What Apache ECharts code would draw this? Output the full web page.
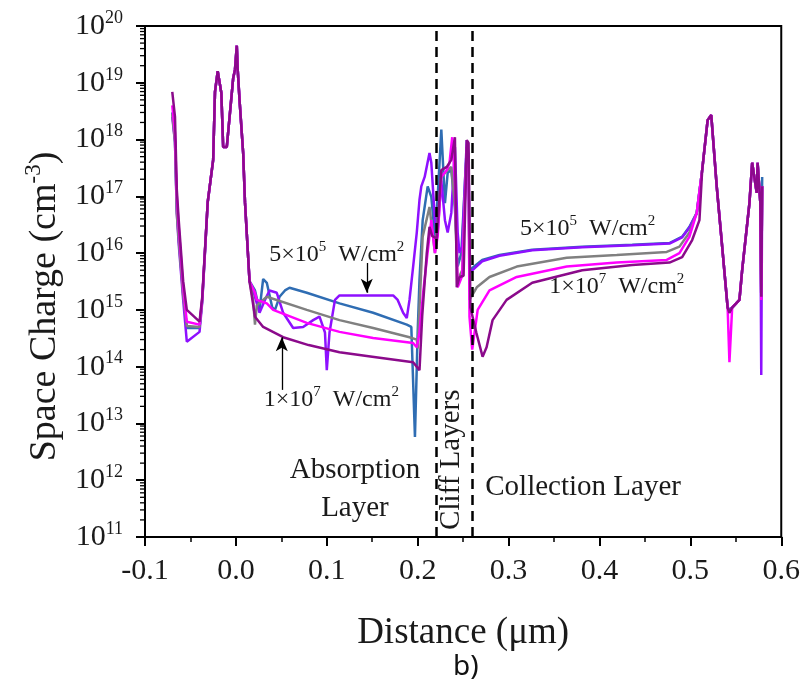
<!DOCTYPE html>
<html><head><meta charset="utf-8">
<script src="https://cdn.jsdelivr.net/npm/echarts@6/dist/echarts.min.js"></script>
<style>html,body{margin:0;padding:0;background:#fff}#c{width:803px;height:695px}</style>
</head><body><div id="c"></div>
<script>
// axis ranges and ticks
const xMin = -0.1, xMax = 0.6, xStep = 0.1;
const yTickValues = [1e11,1e12,1e13,1e14,1e15,1e16,1e17,1e18,1e19,1e20];
const yMinorMultipliers = [2,3,4,5,6,7,8,9];
const layerBoundaries = [0.22, 0.256];

// shared parts of the profiles (all curves coincide here)
const peaksLeft = [[-0.031,7.9e16],[-0.025,4.4e17],[-0.023,6.9e18],[-0.020,1.6e19],[-0.016,6.6e18],[-0.014,7.4e17],[-0.010,7.4e17],[-0.003,1.2e19],[-0.001,1.7e19],[0.001,4.5e19],[0.002,1.7e19],[0.004,5.0e18],[0.008,5.8e17],[0.010,7.9e16],[0.015,3.2e15]];
const peakRightRise = [[0.513,2.9e17],[0.519,2.2e18],[0.523,2.7e18],[0.529,1.5e17],[0.535,1.3e16],[0.541,1.1e15]];
const peakRightTail = [[0.546,1.1e15],[0.554,1.5e15],[0.557,5.0e15],[0.565,7.6e16],[0.568,3.9e17],[0.573,1.15e17],[0.574,3.9e17],[0.577,7.6e16]];

// blue curve
const blueStart = [[-0.070,3.0e18],[-0.067,1.0e18],[-0.065,6e16],[-0.063,2e16],[-0.058,2.0e15],[-0.054,4.8e14],[-0.040,4.8e14],[-0.037,1.5e15]];
const blueMid = [[0.021,2.2e15],[0.026,1.0e15],[0.030,3.5e15],[0.034,3.0e15],[0.040,1.1e15],[0.043,1.0e15],[0.048,1.7e15],[0.054,2.2e15],[0.059,2.45e15],[0.078,2.0e15],[0.114,1.3e15],[0.151,8.9e14],[0.188,5.5e14],[0.193,5.0e14],[0.197,5.8e12],[0.200,4.0e14],[0.202,3.4e15],[0.2055,3.8e16],[0.211,1.5e17],[0.215,9.8e16],[0.219,1.95e16],[0.222,9.8e16],[0.226,1.5e18],[0.230,7.6e16],[0.233,2.6e17],[0.237,2.9e17],[0.241,6.5e16],[0.244,5.8e15],[0.248,1.0e16],[0.254,7.4e17],[0.256,5.0e17],[0.257,5.0e15],[0.271,7.6e15],[0.290,9.3e15],[0.326,1.15e16],[0.381,1.3e16],[0.436,1.4e16],[0.477,1.5e16],[0.491,1.95e16],[0.499,2.9e16],[0.507,5.1e16]];
const blueValley = [[0.543,1.0e15]];
const blueEnd = [[0.578,1.7e15],[0.579,2.2e17]];

// violet curve
const violetStart = [[-0.070,2.5e18],[-0.067,9e17],[-0.065,5e16],[-0.063,1.5e16],[-0.058,1.5e15],[-0.054,2.75e14],[-0.040,4.1e14],[-0.037,1.4e15]];
const violetMid = [[0.021,1.7e15],[0.026,8.9e14],[0.032,1.5e15],[0.037,2.2e15],[0.045,2.0e15],[0.052,8.9e14],[0.063,4.8e14],[0.074,5.0e14],[0.085,6.6e14],[0.092,7.6e14],[0.098,4.0e14],[0.100,8.7e13],[0.103,4.0e14],[0.109,1.5e15],[0.114,1.8e15],[0.133,1.8e15],[0.173,1.8e15],[0.178,1.5e15],[0.184,8.9e14],[0.188,7.2e14],[0.191,1.5e15],[0.195,5.8e15],[0.199,2.3e16],[0.202,8.7e16],[0.204,1.5e17],[0.2077,2.2e17],[0.213,5.8e17],[0.215,3.9e17],[0.219,3.8e16],[0.222,2.3e16],[0.226,1.9e17],[0.230,3.8e16],[0.233,2.3e16],[0.237,5.1e16],[0.241,7.4e17],[0.244,2.3e16],[0.246,1.0e16],[0.249,1.3e16],[0.254,9.8e17],[0.256,5.0e17],[0.257,4.5e15],[0.271,7.2e15],[0.290,9.0e15],[0.326,1.12e16],[0.381,1.27e16],[0.436,1.37e16],[0.477,1.47e16],[0.491,1.9e16],[0.499,2.8e16],[0.507,5.0e16]];
const violetValley = [[0.543,1.0e15]];
const violetEnd = [[0.578,7.1e13],[0.579,1.5e17]];

// gray curve
const grayStart = [[-0.070,2.8e18],[-0.067,9e17],[-0.065,5e16],[-0.063,1.8e16],[-0.058,1.8e15],[-0.054,5.2e14],[-0.040,5.0e14],[-0.037,1.5e15]];
const grayMid = [[0.019,1.5e15],[0.021,5.5e14],[0.023,1.2e15],[0.034,1.7e15],[0.078,1.0e15],[0.114,6.6e14],[0.151,4.8e14],[0.191,3.3e14],[0.199,3.0e14],[0.200,2.1e14],[0.2055,1.95e16],[0.213,6.5e16],[0.219,1.0e16],[0.226,2.2e17],[0.233,2.9e17],[0.237,3.3e17],[0.241,6.5e16],[0.244,3.4e15],[0.249,5.0e15],[0.254,7.4e17],[0.256,5.0e17],[0.257,1.5e15],[0.265,2.5e15],[0.279,3.8e15],[0.309,5.8e15],[0.364,8.3e15],[0.419,9.3e15],[0.474,1.05e16],[0.488,1.3e16],[0.499,2.3e16],[0.507,5.1e16]];
const grayValley = [[0.543,8.9e14]];
const grayEnd = [[0.578,1.7e15],[0.579,1.5e17]];

// magenta curve
const magentaStart = [[-0.070,4.0e18],[-0.067,1.3e18],[-0.065,1e17],[-0.063,3e16],[-0.058,2.5e15],[-0.054,6.2e14],[-0.040,5.5e14],[-0.037,1.6e15]];
const magentaMid = [[0.021,2.0e15],[0.023,1.5e15],[0.034,1.3e15],[0.041,1.0e15],[0.078,5.9e14],[0.114,4.1e14],[0.151,3.2e14],[0.195,2.6e14],[0.199,2.2e14],[0.202,4.0e14],[0.206,2.0e15],[0.210,7.6e15],[0.215,3.8e16],[0.219,1.0e16],[0.222,1.95e16],[0.226,2.2e17],[0.232,2.9e17],[0.235,3.9e17],[0.238,1.1e18],[0.241,1.9e17],[0.244,2.5e15],[0.249,4.0e15],[0.254,7.4e17],[0.256,5.0e17],[0.257,7.6e14],[0.260,2.0e14],[0.266,1.0e15],[0.279,2.2e15],[0.309,3.8e15],[0.364,5.8e15],[0.419,6.8e15],[0.474,7.6e15],[0.488,1.0e16],[0.499,1.95e16],[0.507,5.1e16]];
const magentaValley = [[0.543,1.2e14]];
const magentaEnd = [[0.578,1.5e15],[0.579,1.5e17]];

// purple curve
const purpleStart = [[-0.070,6.9e18],[-0.067,2.5e18],[-0.065,1.3e17],[-0.063,4e16],[-0.058,3.2e15],[-0.054,1.0e15],[-0.040,6.2e14],[-0.037,1.7e15]];
const purpleMid = [[0.021,7.6e14],[0.030,5.0e14],[0.052,3.3e14],[0.080,2.4e14],[0.114,1.8e14],[0.150,1.5e14],[0.195,1.2e14],[0.202,8.7e13],[0.205,7.9e14],[0.210,1.0e16],[0.213,2.9e16],[0.216,2.0e16],[0.221,1.8e16],[0.226,2.9e17],[0.232,3.3e17],[0.237,4.4e17],[0.241,1.1e18],[0.243,2.5e15],[0.246,3.8e15],[0.2505,4.0e15],[0.254,9.8e17],[0.256,8.7e17],[0.258,1.1e15],[0.2645,4.0e14],[0.2714,1.5e14],[0.2758,2.2e14],[0.2824,6.6e14],[0.2978,1.5e15],[0.326,3.0e15],[0.381,5.0e15],[0.436,6.2e15],[0.477,6.8e15],[0.491,8.5e15],[0.502,1.7e16],[0.510,3.8e16]];
const purpleValley = [[0.543,8.9e14]];
const purpleEnd = [[0.578,1.7e15],[0.579,1.5e17]];

const SERIF = 'Liberation Serif';
const TXT = '#1a1a1a';

function build(start, mid, valley, end) {
  return [].concat(start, peaksLeft, mid, peakRightRise, valley, peakRightTail, end);
}

const curves = [
  {name: 'blue',    color: '#2F6DB3', data: build(blueStart, blueMid, blueValley, blueEnd)},
  {name: 'violet',  color: '#8E10FF', data: build(violetStart, violetMid, violetValley, violetEnd)},
  {name: 'gray',    color: '#808080', data: build(grayStart, grayMid, grayValley, grayEnd)},
  {name: 'magenta', color: '#FF00FF', data: build(magentaStart, magentaMid, magentaValley, magentaEnd)},
  {name: 'purple',  color: '#8B0A8B', data: build(purpleStart, purpleMid, purpleValley, purpleEnd)}
];

const yMinorValues = [];
yTickValues.slice(0, -1).forEach(d => yMinorMultipliers.forEach(m => yMinorValues.push(d * m)));

const richSup = {
  b: {fontFamily: SERIF, fontSize: 24, lineHeight: 30, color: TXT},
  s: {fontFamily: SERIF, fontSize: 15, lineHeight: 15, verticalAlign: 'top', color: TXT}
};
const intensityHigh = '{b|5×10}{s|5}{b|  W/cm}{s|2}';
const intensityLow = '{b|1×10}{s|7}{b|  W/cm}{s|2}';

function textPoint(coord, text, extra) {
  return Object.assign({
    coord: coord, symbol: 'circle', symbolSize: 1, itemStyle: {color: 'rgba(0,0,0,0)'},
    label: {show: true, position: 'inside', formatter: text, rich: richSup, color: TXT, fontFamily: SERIF}
  }, extra || {});
}

const chart = echarts.init(document.getElementById('c'), null, {renderer: 'canvas'});

const series = curves.map(c => ({
  name: c.name, type: 'line', data: c.data, showSymbol: false, symbol: 'none',
  lineStyle: {color: c.color, width: 2.5}, itemStyle: {color: c.color},
  animation: false, z: 3
}));

series.push({
  name: 'annotations', type: 'line', data: [], animation: false, z: 5,
  markLine: {
    silent: true, animation: false,
    symbol: ['none', 'none'],
    label: {show: false},
    lineStyle: {color: '#000', type: [10, 6], width: 2.5},
    data: layerBoundaries.map(v => ({xAxis: v}))
  },
  markPoint: {
    silent: true, animation: false,
    data: [
      textPoint([0.111, 9.3e15], intensityHigh),
      textPoint([0.105, 2.6e13], intensityLow),
      textPoint([0.387, 2.7e16], intensityHigh),
      textPoint([0.419, 2.6e15], intensityLow),
      textPoint([0.131, 7.0e11], 'Absorption\nLayer', {label: {show: true, position: 'inside', formatter: 'Absorption\nLayer', fontFamily: SERIF, fontSize: 29, lineHeight: 38, color: TXT}}),
      textPoint([0.2374, 2.3e12], 'Cliff Layers', {label: {show: true, position: 'inside', formatter: 'Cliff Layers', fontFamily: SERIF, fontSize: 29, color: TXT, rotate: 90}}),
      textPoint([0.382, 7.6e11], 'Collection Layer', {label: {show: true, position: 'inside', formatter: 'Collection Layer', fontFamily: SERIF, fontSize: 29, color: TXT}})
    ]
  }
});

// arrows
series.push({
  name: 'arrows', type: 'line', data: [], animation: false, z: 6,
  markLine: {
    silent: true, animation: false,
    symbol: ['none', 'arrow'], symbolSize: [9, 14],
    label: {show: false},
    lineStyle: {color: '#000', type: 'solid', width: 1.3},
    data: [
      [{coord: [0.144, 6.7e15]}, {coord: [0.144, 2.0e15]}],
      [{coord: [0.0505, 3.9e13]}, {coord: [0.0505, 3.3e14]}]
    ]
  }
});

// minor ticks of the logarithmic y axis, placed through the axis scale
series.push({
  name: 'yMinorTicks', type: 'custom', clip: false, silent: true, animation: false, z: 10,
  data: yMinorValues.map(v => [xMin, v]),
  renderItem: (params, api) => {
    const p = api.coord([api.value(0), api.value(1)]);
    return {type: 'line', shape: {x1: p[0] - 5, y1: p[1], x2: p[0], y2: p[1]}, style: {stroke: '#000', lineWidth: 1.3}};
  }
});

chart.setOption({
  animation: false,
  backgroundColor: '#fff',
  title: {text: 'b)', left: 448, top: 648, textStyle: {fontFamily: 'Noto Sans', fontSize: 28, fontWeight: 'normal', color: '#111'}},
  grid: {left: 145, right: 21, top: 26, bottom: 158, show: true, borderColor: '#000', borderWidth: 2, backgroundColor: 'transparent'},
  xAxis: {
    type: 'value', min: xMin, max: xMax, interval: xStep,
    name: 'Distance (μm)', nameLocation: 'middle', nameGap: 78,
    nameTextStyle: {fontFamily: SERIF, fontSize: 37, color: TXT},
    axisLine: {show: true, onZero: false, lineStyle: {color: '#000', width: 2}},
    axisTick: {show: true, length: 9, lineStyle: {color: '#000', width: 2}},
    minorTick: {show: true, splitNumber: 2, length: 5, lineStyle: {color: '#000', width: 1.5}},
    axisLabel: {fontFamily: SERIF, fontSize: 30, color: TXT, margin: 19, formatter: v => v.toFixed(1)},
    splitLine: {show: false}, minorSplitLine: {show: false}
  },
  yAxis: {
    type: 'log', logBase: 10, min: 1e11, max: 1e20,
    name: '{a|Space Charge (cm}{s|-3}{a|)}', nameLocation: 'middle', nameGap: 68, nameRotate: 90,
    nameTextStyle: {padding: [0, 50, 0, 0], rich: {
      a: {fontFamily: SERIF, fontSize: 38, lineHeight: 46, color: TXT},
      s: {fontFamily: SERIF, fontSize: 23, lineHeight: 23, verticalAlign: 'top', color: TXT}
    }},
    axisLine: {show: true, onZero: false, lineStyle: {color: '#000', width: 2}},
    axisTick: {show: true, length: 9, customValues: yTickValues, lineStyle: {color: '#000', width: 2}},
    axisLabel: {
      customValues: yTickValues, margin: 22,
      formatter: v => '{b|10}{s|' + Math.round(Math.log10(v)) + '}',
      rich: {
        b: {fontFamily: SERIF, fontSize: 30, lineHeight: 34, color: TXT},
        s: {fontFamily: SERIF, fontSize: 18, lineHeight: 18, verticalAlign: 'top', color: TXT}
      }
    },
    splitLine: {show: false}
  },
  series: series
});
</script>
</body></html>
